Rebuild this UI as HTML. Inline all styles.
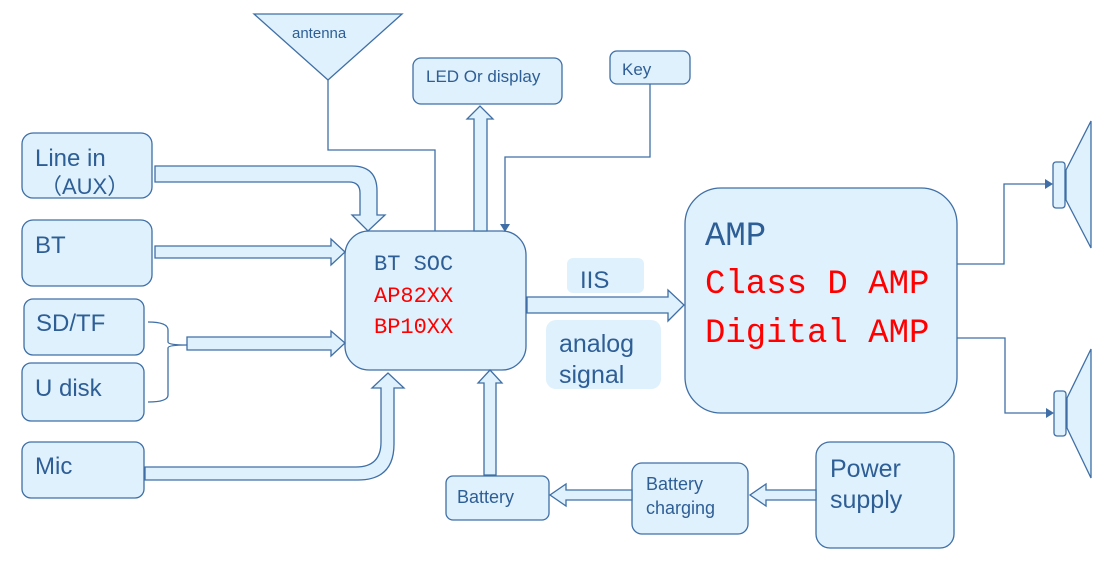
<!DOCTYPE html>
<html><head><style>
html,body{margin:0;padding:0;background:#fff;}
svg{display:block;}
.s{font-family:"Liberation Sans",sans-serif;fill:#2e5e96;}
.m{font-family:"Liberation Mono",monospace;}
</style></head><body>
<svg width="1115" height="566" viewBox="0 0 1115 566" xmlns="http://www.w3.org/2000/svg">
<g fill="#dff1fc" stroke="#3f6fa6" stroke-width="1.3">
<rect x="22" y="133" width="130" height="65" rx="11"/>
<rect x="22" y="220" width="130" height="66" rx="11"/>
<rect x="24" y="299" width="120" height="56" rx="9"/>
<rect x="22" y="363" width="122" height="58" rx="9"/>
<rect x="22" y="442" width="122" height="56" rx="9"/>
<rect x="345" y="231" width="181" height="139" rx="24"/>
<rect x="685" y="188" width="272" height="225" rx="36"/>
<rect x="413" y="58" width="149" height="46" rx="8"/>
<rect x="610" y="51" width="80" height="33" rx="7"/>
<rect x="446" y="476" width="103" height="44" rx="7"/>
<rect x="632" y="463" width="116" height="71" rx="10"/>
<rect x="816" y="442" width="138" height="106" rx="14"/>
<polygon points="254,14 402,14 328,80"/>
<path d="M155,166 H352 Q377,166 377,191 V215 H385 L368,231 L352,215 H360 V193 Q360,182 349,182 H155 Z"/>
<path d="M155,246 H331 V239 L345,252 L331,265 V258 H155 Z"/>
<path d="M187,337 H331 V331 L345,343 L331,356 V350 H187 Z"/>
<path d="M145,467 H356 Q381,467 381,442 V388 H372 L388,373 L404,388 H394 V444 Q394,480 358,480 H145 Z"/>
<path d="M484,475 V383 H478 L490,370 L502,383 H496 V475 Z"/>
<path d="M474,231 V119 H467 L480,106 L493,119 H487 V231 Z"/>
<path d="M527,297 H668 V290 L684,305 L668,321 V313 H527 Z"/>
<path d="M632,490 H566 V484 L550,495 L566,506 V500 H632 Z"/>
<path d="M816,490 H766 V484 L750,495 L766,506 V500 H816 Z"/>
<rect x="1053" y="162" width="12" height="46" rx="3"/>
<polygon points="1066,170 1091,121 1091,248 1066,200"/>
<rect x="1054" y="391" width="12" height="45" rx="3"/>
<polygon points="1067,398 1091,349 1091,478 1067,428"/>
</g>
<g fill="none" stroke="#3f6fa6" stroke-width="1.3">
<path d="M328,80 V150 H435 V231"/>
<path d="M650,84 V157 H505 V224"/>
<path d="M148,322 Q168,322 168,330 V342 Q168,345 187,345 M148,402 Q168,402 168,395 V348 Q168,345 187,345"/>
<path d="M957,264 H1004 V184 H1046"/>
<path d="M957,338 H1005 V413 H1047"/>
</g>
<g fill="#3f6fa6">
<polygon points="500,224 510,224 505,232"/>
<polygon points="1045,179 1053,184 1045,189"/>
<polygon points="1046,408 1054,413 1046,418"/>
</g>
<rect x="567" y="258" width="77" height="35" rx="6" fill="#dff1fc"/>
<rect x="546" y="320" width="115" height="69" rx="10" fill="#dff1fc"/>
<g class="s">
<text x="292" y="38" font-size="15">antenna</text>
<text x="426" y="82" font-size="17">LED Or display</text>
<text x="622" y="75" font-size="17">Key</text>
<text x="35" y="166" font-size="24">Line in</text>
<text x="40" y="194" font-size="22">（AUX）</text>
<text x="35" y="253" font-size="24">BT</text>
<text x="36" y="331" font-size="24">SD/TF</text>
<text x="35" y="396" font-size="24">U disk</text>
<text x="35" y="474" font-size="24">Mic</text>
<text x="580" y="288" font-size="24">IIS</text>
<text x="559" y="352" font-size="25">analog</text>
<text x="559" y="383" font-size="25">signal</text>
<text x="457" y="503" font-size="18">Battery</text>
<text x="646" y="490" font-size="18">Battery</text>
<text x="646" y="514" font-size="18">charging</text>
<text x="830" y="477" font-size="25">Power</text>
<text x="830" y="508" font-size="25">supply</text>
</g>
<g class="m" font-size="22">
<text x="374" y="270" fill="#2e5e96">BT SOC</text>
<text x="374" y="302" fill="#ff0000">AP82XX</text>
<text x="374" y="333" fill="#ff0000">BP10XX</text>
</g>
<g class="m" font-size="34">
<text x="705" y="245" fill="#2e5e96">AMP</text>
<text x="705" y="293" fill="#ff0000">Class D AMP</text>
<text x="705" y="342" fill="#ff0000">Digital AMP</text>
</g>
</svg>
</body></html>
